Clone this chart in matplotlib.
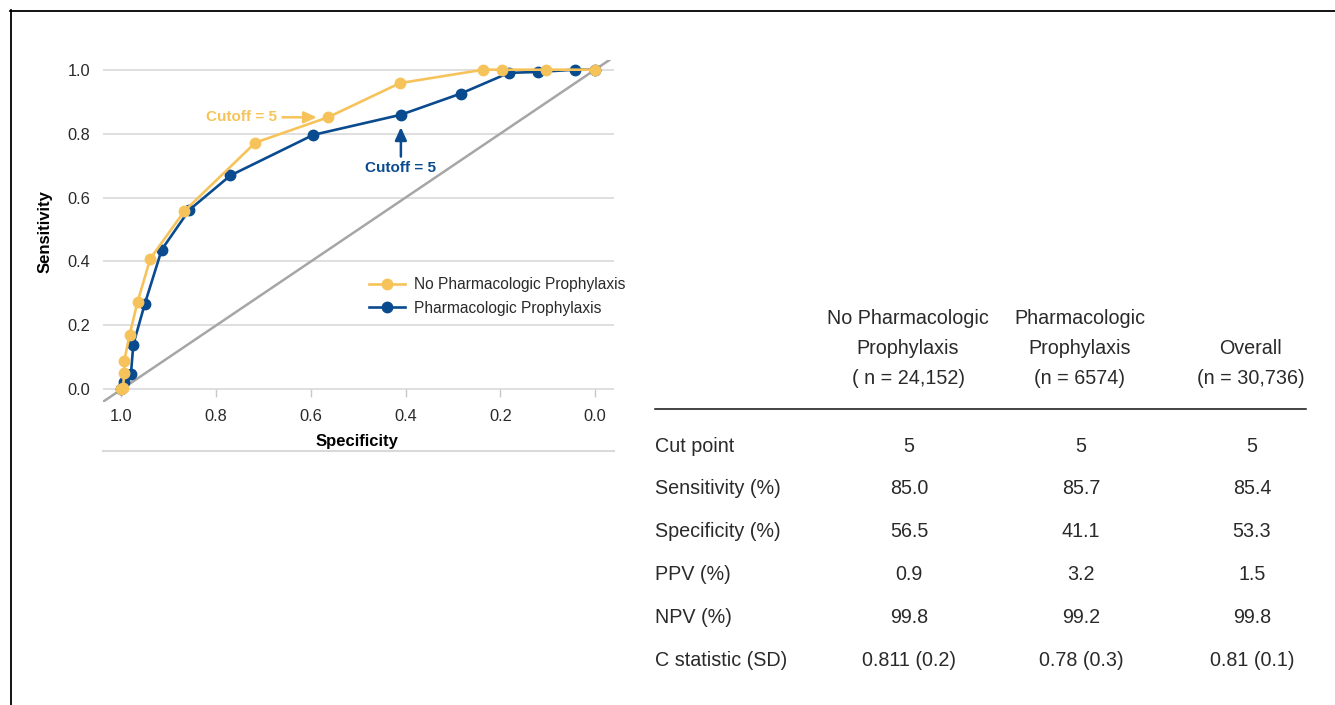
import matplotlib
matplotlib.use("Agg")
import matplotlib.pyplot as plt
from matplotlib.lines import Line2D

# ---------------- data ----------------
spec_no = [1.0, 0.997, 0.994, 0.994, 0.983, 0.966, 0.939, 0.867, 0.717, 0.564, 0.412, 0.236, 0.196, 0.104, 0.0]
sens_no = [0.0, 0.003, 0.052, 0.090, 0.169, 0.274, 0.409, 0.558, 0.772, 0.851, 0.958, 1.0, 1.0, 1.0, 1.0]
spec_ph = [1.0, 0.994, 0.980, 0.975, 0.951, 0.915, 0.857, 0.770, 0.595, 0.410, 0.284, 0.182, 0.120, 0.043, 0.0]
sens_ph = [0.0, 0.023, 0.048, 0.140, 0.266, 0.437, 0.561, 0.669, 0.796, 0.859, 0.925, 0.990, 0.993, 1.0, 1.0]
cut_no = (0.564, 0.851)
cut_ph = (0.410, 0.859)
ticks = [1.0, 0.8, 0.6, 0.4, 0.2, 0.0]
tick_labels = ["1.0", "0.8", "0.6", "0.4", "0.2", "0.0"]
legend_labels = ["No Pharmacologic Prophylaxis", "Pharmacologic Prophylaxis"]

col_headers = [["No Pharmacologic", "Prophylaxis", "( n = 24,152)"],
               ["Pharmacologic", "Prophylaxis", "(n = 6574)"],
               ["", "Overall", "(n = 30,736)"]]
row_labels = ["Cut point", "Sensitivity (%)", "Specificity (%)", "PPV (%)", "NPV (%)", "C statistic (SD)"]
vals_no = ["5", "85.0", "56.5", "0.9", "99.8", "0.811 (0.2)"]
vals_ph = ["5", "85.7", "41.1", "3.2", "99.2", "0.78 (0.3)"]
vals_all = ["5", "85.4", "53.3", "1.5", "99.8", "0.81 (0.1)"]

YEL = "#F6C35B"
BLU = "#0A4B8F"
GRID = "#D9D9D9"
TXT = "#2A2A2A"

W, H = 1335, 705
LIGHT = dict(family=["Liberation Sans", "DejaVu Sans"], weight="normal")
BOLD = dict(family=["Liberation Sans", "DejaVu Sans"], weight="bold")

fig = plt.figure(figsize=(W / 100, H / 100), dpi=100)

def fx(px):
    return px / W

def fy(py):
    return 1 - py / H

# frame lines (top and left)
fig.add_artist(Line2D([fx(10), fx(1335)], [fy(10.5), fy(10.5)], color="black", lw=1.3))
fig.add_artist(Line2D([fx(10.5), fx(10.5)], [fy(10), fy(705)], color="black", lw=1.3))

# ---------------- ROC plot ----------------
ax = fig.add_axes([fx(103), fy(402.1), (614 - 103) / W, (402.1 - 60.1) / H])
ax.set_xlim(1.039, -0.04)
ax.set_ylim(-0.04, 1.03)
for s in ax.spines.values():
    s.set_visible(False)
ax.spines["bottom"].set_position(("data", 0))
ax.set_yticks([0, 0.2, 0.4, 0.6, 0.8, 1.0])
ax.set_yticklabels(["0.0", "0.2", "0.4", "0.6", "0.8", "1.0"], fontsize=11.8, color=TXT, **LIGHT)
ax.set_xticks(ticks)
ax.set_xticklabels(tick_labels, fontsize=11.8, color=TXT, **LIGHT)
ax.tick_params(axis="y", length=0, pad=9)
ax.tick_params(axis="x", length=6, width=1, color="#C8C8C8", pad=8)
ax.grid(axis="y", color=GRID, lw=1.2)
ax.set_axisbelow(True)

ax.axline((1, 0), (0, 1), color="#A6A6A6", lw=1.8, zorder=1)
ax.plot(spec_ph, sens_ph, color=BLU, lw=1.9, marker="o", ms=7.5, zorder=3,
        label=legend_labels[1])
ax.plot(spec_no, sens_no, color=YEL, lw=1.9, marker="o", ms=7.5, zorder=4,
        label=legend_labels[0])

ax.set_ylabel("Sensitivity", fontsize=12, labelpad=11, **BOLD)
ax.set_xlabel("Specificity", fontsize=12, **BOLD)
ax.xaxis.set_label_coords(0.497, -0.094)

# separator line under x label
ax.plot([0, 1], [-0.143, -0.143], transform=ax.transAxes, color=GRID, lw=1.5, clip_on=False)

ax.annotate("Cutoff = 5", xy=cut_no, xytext=(-51, 0), textcoords="offset pixels",
            ha="right", va="center", color=YEL, fontsize=11, zorder=5, **BOLD,
            arrowprops=dict(arrowstyle="-|>,head_length=0.7,head_width=0.32", color=YEL, lw=1.8,
                            shrinkA=2, shrinkB=8))
ax.annotate("Cutoff = 5", xy=cut_ph, xytext=(0, -53), textcoords="offset pixels",
            ha="center", va="center", color=BLU, fontsize=11, zorder=5, **BOLD,
            arrowprops=dict(arrowstyle="-|>,head_length=0.7,head_width=0.32", color=BLU, lw=1.8,
                            shrinkA=1, shrinkB=9))

h, l = ax.get_legend_handles_labels()
leg = ax.legend(h[::-1], l[::-1], loc="upper left", bbox_to_anchor=((355 - 103) / 511, (402.1 - 263) / 342),
                frameon=False, handlelength=2.3, handletextpad=0.6,
                labelspacing=0.55, prop=dict(size=11.2, **LIGHT))
for t in leg.get_texts():
    t.set_color(TXT)

# ---------------- table ----------------
FS = 14.2
col_x = [908, 1080, 1251]
head_y = [318, 348, 378]
for cx, lines in zip(col_x, col_headers):
    for yy, txt in zip(head_y, lines):
        if txt:
            fig.text(fx(cx), fy(yy), txt, ha="center", va="center", fontsize=FS, color=TXT, **LIGHT)

fig.add_artist(Line2D([fx(655), fx(1306)], [fy(409), fy(409)], color="#111111", lw=1.1))

row_y0, row_dy = 446, 42.8
for i, lab in enumerate(row_labels):
    yy = row_y0 + i * row_dy
    fig.text(fx(655), fy(yy), lab, ha="left", va="center", fontsize=FS, color=TXT, **LIGHT)
    for cx, vals in zip(col_x, [vals_no, vals_ph, vals_all]):
        fig.text(fx(cx + 1), fy(yy), vals[i], ha="center", va="center", fontsize=FS, color=TXT, **LIGHT)

fig.savefig("out.png", dpi=100)
